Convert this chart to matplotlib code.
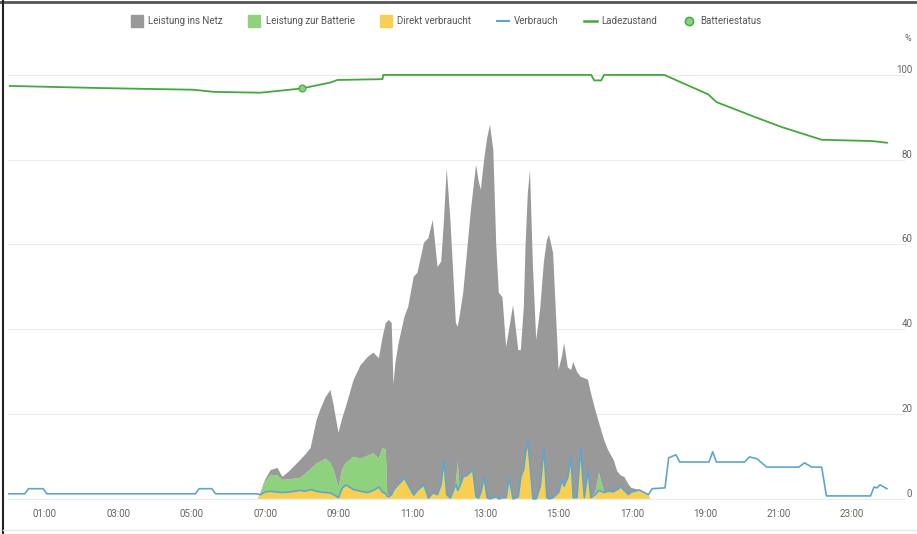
import matplotlib.pyplot as plt
from matplotlib.lines import Line2D
import numpy as np

plt.rcParams['font.family'] = ['Roboto', 'DejaVu Sans']

# Tagesverlauf PV (Stunden ab Mitternacht), Werte in %
tag_t = [6.80, 6.87, 7.00, 7.15, 7.34, 7.47, 7.64, 7.80, 7.96, 8.10,
         8.24, 8.40, 8.50, 8.65, 8.78, 8.87, 9.00, 9.10, 9.20, 9.41,
         9.60, 9.80, 9.95, 10.10, 10.20, 10.29, 10.33, 10.37, 10.45, 10.50,
         10.55, 10.64, 10.80, 10.90, 11.05, 11.15, 11.33, 11.45, 11.57, 11.70,
         11.80, 11.87, 11.95, 12.05, 12.20, 12.25, 12.30, 12.40, 12.50, 12.61,
         12.66, 12.75, 12.82, 12.88, 12.97, 13.05, 13.13, 13.22, 13.30, 13.37,
         13.47, 13.57, 13.65, 13.76, 13.90, 13.97, 14.05, 14.10, 14.16, 14.22,
         14.30, 14.39, 14.50, 14.60, 14.68, 14.74, 14.85, 15.00, 15.10, 15.15,
         15.25, 15.34, 15.40, 15.50, 15.60, 15.70, 15.80, 15.88, 16.00, 16.10,
         16.24, 16.35, 16.50, 16.60, 16.70, 16.79, 16.90, 16.98, 17.20, 17.45,
         17.50]

netz = [0, 0.1, 0.5, 1.1, 1.8, 0.7, 1.8, 3.0, 4.2, 4.5,
        5.0, 10.2, 12.2, 14.5, 17.2, 15.2, 12.8, 12.0, 13.2, 18.1,
        22.0, 23.3, 23.7, 23.7, 26.0, 29.9, 40.8, 41.4, 40.5, 25.0,
        29.4, 33.3, 38.1, 42.0, 51.5, 51.3, 57.1, 61.3, 64.4, 53.7,
        52.5, 55.8, 77.0, 65.8, 37.5, 31.9, 40.2, 43.4, 52.5, 61.8,
        65.2, 78.3, 74.8, 71.4, 74.8, 84.7, 88.2, 82.0, 59.5, 48.6,
        47.3, 35.5, 35.1, 45.7, 34.6, 29.9, 38.0, 49.2, 58.5, 69.6,
        55.0, 37.5, 42.0, 44.0, 60.7, 62.3, 57.7, 28.9, 29.5, 33.8,
        26.0, 20.7, 32.0, 29.7, 16.8, 28.2, 21.3, 24.7, 19.5, 11.9,
        12.4, 9.7, 7.5, 4.3, 2.7, 3.2, 2.5, 1.0, 0, 0,
        0]

batterie = [0, 0.4, 2.4, 3.9, 3.9, 3.0, 3.0, 3.0, 3.0, 4.2,
            4.8, 6.5, 7.2, 8.0, 7.1, 5.8, 2.5, 4.5, 5.2, 7.7,
            7.7, 8.7, 8.8, 6.7, 10.4, 10.4, 0.4, 0.3, 0, 0,
            0, 0, 0, 0, 0, 0, 0, 0, 0, 0,
            0, 0, 0, 0, 0.5, 6.7, 0, 0, 0, 0,
            0, 0, 0, 0, 0, 0, 0, 0, 0, 0,
            0, 0, 0, 0, 0, 0, 0, 0, 0, 0,
            0, 0, 0, 0, 0, 0, 0, 0, 0, 0,
            0, 0, 0, 0, 0, 0, 0, 0, 0.5, 4.1,
            0, 0, 0, 0, 0, 0, 0, 0, 0, 0,
            0]

direkt = [0, 1.0, 1.6, 1.8, 1.6, 1.5, 1.6, 1.8, 2.0, 1.8,
          2.2, 1.8, 1.6, 1.5, 1.4, 1.0, 0.3, 2.5, 3.3, 2.2,
          1.8, 1.5, 2.0, 2.8, 1.6, 1.2, 0.6, 0.5, 1.0, 2.0,
          2.6, 3.5, 4.9, 3.3, 0.9, 2.0, 3.3, 0.2, 1.4, 1.0,
          3.5, 9.2, 1.0, 0.2, 3.5, 2.0, 2.8, 5.2, 5.5, 6.4,
          6.8, 0.5, 0.2, 1.5, 5.2, 0.3, 0, 0.3, 0.5, 0,
          0.3, 0.3, 4.9, 0, 0.5, 5.2, 7.0, 10.8, 13.5, 8.0,
          0, 0, 3.0, 12.0, 0.3, 0, 0.3, 1.5, 4.5, 3.0,
          5.0, 9.7, 0.3, 0.3, 12.0, 0.3, 6.8, 0.3, 1.0, 2.0,
          1.5, 1.8, 1.7, 2.2, 2.8, 2.0, 1.0, 1.6, 2.1, 1.0,
          0]

# Verbrauch nachts / abends
nacht_t = [0.0, 0.45, 0.55, 0.95, 1.05, 5.10, 5.20, 5.55, 5.65, 6.75]
nacht_v = [1.2, 1.2, 2.4, 2.4, 1.2, 1.2, 2.4, 2.4, 1.2, 1.2]
abend_t = [17.55, 17.90, 18.00, 18.20, 18.30, 19.10, 19.20, 19.30, 20.07, 20.20,
           20.40, 20.67, 21.55, 21.70, 21.90, 22.17, 22.30, 23.50, 23.60, 23.68,
           23.76, 23.95]
abend_v = [2.4, 2.6, 9.7, 10.4, 8.7, 8.7, 11.1, 8.7, 8.7, 9.9,
           9.5, 7.5, 7.5, 8.5, 7.5, 7.5, 0.7, 0.7, 2.8, 2.6,
           3.3, 2.4]

# Ladezustand
soc_t = [0.04, 2.5, 5.05, 5.6, 6.87, 8.0, 8.78, 8.97, 10.2, 10.22,
         15.89, 15.97, 16.16, 16.24, 17.88, 19.08, 19.3, 20.34, 21.08, 22.17,
         23.54, 23.95]
soc = [97.4, 96.9, 96.5, 96.0, 95.8, 96.8, 98.2, 98.8, 99.0, 100,
       100, 98.7, 98.7, 100, 100, 95.4, 93.6, 90.1, 87.7, 84.7,
       84.4, 84.0]
status_t = [8.0]
status_v = [96.8]

stunden = [1, 3, 5, 7, 9, 11, 13, 15, 17, 19, 21, 23]
stunden_lbl = ['%02d:00' % h for h in stunden]
y_ticks = [0, 20, 40, 60, 80, 100]

c_netz = '#999999'
c_batt = '#8ed27d'
c_direkt = '#f7d052'
c_verbr = '#5ea6cf'
c_soc = '#44a83c'

fig = plt.figure(figsize=(9.17, 5.34), dpi=100)
ax = fig.add_axes([8.3 / 917, 33 / 534, 897 / 917, 447.3 / 534])

ax.stackplot(tag_t, direkt, batterie, netz, colors=[c_direkt, c_batt, c_netz],
             linewidth=0, zorder=2)

verbr_t = nacht_t + tag_t[1:-1] + abend_t
verbr_v = nacht_v + direkt[1:-1] + abend_v
ax.plot(verbr_t, verbr_v, color=c_verbr, lw=1.2, zorder=3)

ax.plot(soc_t, soc, color=c_soc, lw=1.3, zorder=3)
ax.plot(status_t, status_v, 'o', ms=5, mfc='#86d07e', mec=c_soc, mew=0.8, zorder=4)

ax.set_xlim(0, 24.45)
ax.set_ylim(-0.5, 105)
ax.set_yticks(y_ticks)
ax.set_xticks(stunden)
ax.set_xticklabels(stunden_lbl)
ax.grid(axis='y', color='#ececec', lw=0.8, zorder=0)
for s in ax.spines.values():
    s.set_visible(False)
ax.tick_params(axis='x', length=0, pad=6, labelsize=7, labelcolor='#666666')
ax.tick_params(axis='y', left=False, labelleft=False, right=True, labelright=True,
               length=0, pad=5, labelsize=7, labelcolor='#666666')
for lbl in ax.get_yticklabels():
    lbl.set_ha('right')
    lbl.set_va('bottom')
ax.text(1.007, 107.5, '%', transform=ax.get_yaxis_transform(), ha='right',
        va='bottom', fontsize=6.5, color='#666666', clip_on=False)

handles = [
    Line2D([], [], marker='s', ls='none', ms=8, color=c_netz),
    Line2D([], [], marker='s', ls='none', ms=8, color=c_batt),
    Line2D([], [], marker='s', ls='none', ms=8, color=c_direkt),
    Line2D([], [], color=c_verbr, lw=1.5),
    Line2D([], [], color=c_soc, lw=1.8),
    Line2D([], [], marker='o', ls='none', ms=6, mfc='#86d07e', mec=c_soc),
]
labels = ['Leistung ins Netz', 'Leistung zur Batterie', 'Direkt verbraucht',
          'Verbrauch', 'Ladezustand', 'Batteriestatus']
fig.legend(handles, labels, loc='center', bbox_to_anchor=(446 / 917, 513 / 534),
           ncol=6, frameon=False, fontsize=7, labelcolor='#555555',
           handlelength=1.3, handletextpad=0.5, columnspacing=2.6)

# Rahmen des Screenshots
fig.add_artist(Line2D([0, 1], [1 - 2 / 534, 1 - 2 / 534], color='#555555', lw=2))
fig.add_artist(Line2D([3 / 917, 3 / 917], [0, 1], color='#222222', lw=1.5))
fig.add_artist(Line2D([3 / 917, 1], [4 / 534, 4 / 534], color='#e6e6e6', lw=1))

fig.savefig('out.png', dpi=100)
